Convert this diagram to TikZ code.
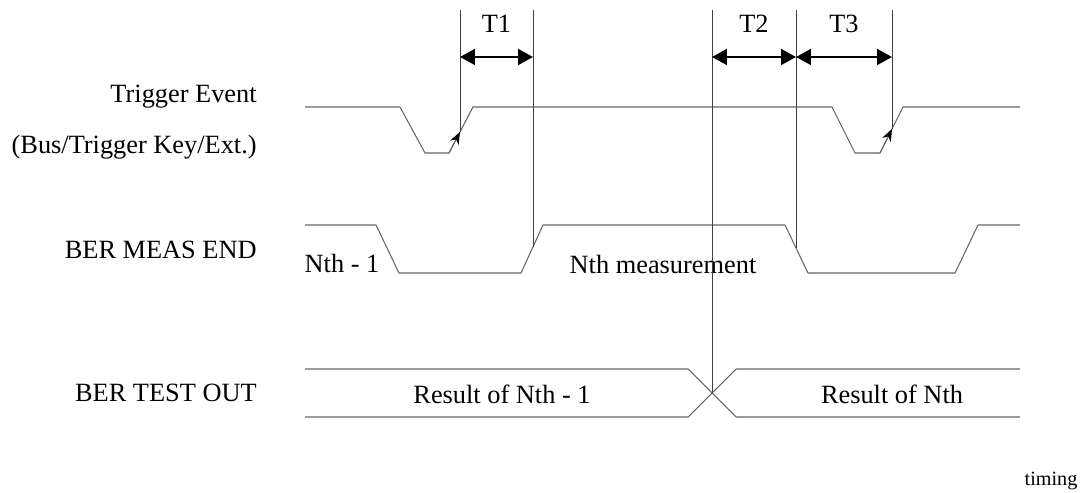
\documentclass[tikz,border=0pt]{standalone}
\usepackage{fontspec}
\setmainfont{Liberation Serif}
\usetikzlibrary{arrows.meta}

\begin{document}
\begin{tikzpicture}[x=0.02cm, y=-0.02cm,
        wave/.style={draw=black!60, line width=0.6pt},
        marker/.style={draw=black!75, line width=0.5pt},
        span/.style={{Triangle[length=8.5pt,width=9pt]}-{Triangle[length=8.5pt,width=9pt]}, line width=1.4pt},
        edgetip/.style={-{Stealth[length=7pt,width=5.5pt,black]}, draw=black!60, line width=0.6pt},
        every node/.style={font=\fontsize{15}{18}\selectfont, inner sep=0pt}]
    \useasboundingbox (0,0) rectangle (1081,493);

    % signal names
    \node[anchor=east] (trig) at (257,97) {Trigger Event};
    \node[anchor=east] (src) at (257,147) {(Bus/Trigger Key/Ext.)};
    \node[anchor=east] (meas) at (257,250) {BER MEAS END};
    \node[anchor=east] (test) at (257,393) {BER TEST OUT};

    % trigger event
    \draw[wave] (305,107) -- (400,107) -- (425,153) -- (449,153) -- (473,107)
        -- (832,107) -- (855,153) -- (880,153) -- (903,107) -- (1020,107);
    \coordinate (tip1) at (460,132);
    \coordinate (tip2) at (892,129);
    \draw[edgetip] (449,153) -- (tip1);
    \draw[edgetip] (880,153) -- (tip2);

    % BER MEAS END
    \draw[wave] (305,225) -- (376,225) -- (399,273) -- (521,273) -- (543,225)
        -- (785,225) -- (808,273) -- (955,273) -- (978,225) -- (1020,225);
    \coordinate (rise) at (533,247);
    \coordinate (fall) at (796,248);
    \node (prev) at (342,263) {Nth - 1};
    \node (cur) at (663,264) {Nth measurement};

    % BER TEST OUT
    \draw[wave] (305,369) -- (688,369) -- (736,417) -- (1020,417);
    \draw[wave] (305,417) -- (688,417) -- (736,369) -- (1020,369);
    \coordinate (cross) at (712,393);
    \node (res1) at (502,394) {Result of Nth - 1};
    \node (res2) at (892,394) {Result of Nth};

    % marker lines
    \coordinate (a) at (460,10);
    \coordinate (b) at (533,10);
    \coordinate (c) at (712,10);
    \coordinate (d) at (796,10);
    \coordinate (e) at (892,10);
    \draw[marker] (a) -- (tip1);
    \draw[marker] (b) -- (rise);
    \draw[marker] (c) -- (cross);
    \draw[marker] (d) -- (fall);
    \draw[marker] (e) -- (tip2);

    % intervals
    \draw[span] (460,57) -- node[above=13pt, text depth=0pt] {T1} (533,57);
    \draw[span] (712,57) -- node[above=13pt, text depth=0pt] {T2} (796,57);
    \draw[span] (796,57) -- node[above=13pt, text depth=0pt] {T3} (892,57);

    \node[font=\fontsize{11.5}{14}\selectfont] (cap) at (1051,481) {timing};
\end{tikzpicture}
\end{document}
